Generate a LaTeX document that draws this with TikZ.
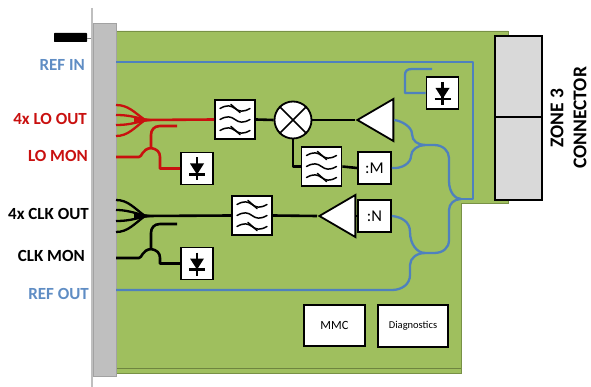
\documentclass[tikz,border=0pt]{standalone}
\usepackage{fontspec}
\setmainfont{Carlito}
\usetikzlibrary{shapes.geometric}
\definecolor{boardg}{HTML}{9FBF5E}
\definecolor{boardd}{HTML}{6E8540}
\definecolor{panelg}{HTML}{BFBFBF}
\definecolor{zoneg}{HTML}{D9D9D9}
\definecolor{bluel}{HTML}{4F81BD}
\definecolor{bluet}{HTML}{5F8DC4}
\definecolor{redl}{HTML}{C9100F}
\tikzset{
  box/.style={draw=black,fill=white,line width=1.8pt,inner sep=0pt,rectangle},
  sigline/.style={line width=2.6pt,line join=round},
  redsig/.style={sigline,draw=redl},
  blacksig/.style={sigline,draw=black},
  bluesig/.style={line width=2.3pt,draw=bluel,line join=round},
  sidelabel/.style={font=\bfseries\fontsize{17}{17}\selectfont,anchor=east,inner sep=0pt},
  amp/.style={isosceles triangle,isosceles triangle stretches,shape border rotate=180,
    draw=black,fill=white,line width=1.8pt,inner sep=0pt,minimum width=42pt,minimum height=36pt,anchor=apex},
  filterbox/.style={box,minimum width=40pt,minimum height=38.5pt},
  diodebox/.style={box,minimum width=32pt,minimum height=32pt},
  divbox/.style={box,minimum width=33pt,minimum height=31.5pt,font=\fontsize{16.5}{16.5}\selectfont},
  mini/.style={line width=1.5pt,line cap=round},
  fanline/.style={line width=2.3pt,line join=round},
}
\newcommand{\filtersym}[1]{%
  \begin{scope}[shift={(#1)}]
    \foreach \yy in {-11,0,11}{
      \draw[mini] (-15,\yy) .. controls (-8,\yy-4) and (-4,\yy-3) .. (0,\yy) .. controls (4,\yy+3) and (8,\yy+4) .. (15,\yy);
    }
    \draw[mini] (-4,-15) -- (5,-7);
    \draw[mini] (-4,7) -- (5,15);
  \end{scope}}
\newcommand{\diodesym}[1]{%
  \begin{scope}[shift={(#1)}]
    \draw[line width=2.2pt] (0,-11) -- (0,12);
    \fill (-7,-5) -- (7,-5) -- (0,6) -- cycle;
    \draw[line width=2.4pt] (-8,6) -- (8,6);
  \end{scope}}
\begin{document}
\begin{tikzpicture}[x=1pt,y=-1pt]
\useasboundingbox (0,0) rectangle (591,387);
% board
\fill[boardg,draw=boardd!80!boardg,line width=.6pt] (116,31) -- (508,31) -- (508,203) -- (461,203) -- (461,373) -- (116,373) -- cycle;
\draw[boardd,line width=.9pt] (116,368) -- (461,368);
% panel and handle
\draw[panelg,line width=2pt] (91.5,8) -- (91.5,387);
\fill[panelg,draw=panelg!85!black,line width=.4pt] (93,23) rectangle (116,376);
\fill[black,rounded corners=.7pt] (54,33) rectangle (87,42);
\draw[gray,line width=.8pt] (87,38) -- (91,38);
% connector
\node[draw=black,fill=zoneg,line width=1.6pt,inner sep=0pt,minimum width=47pt,minimum height=81pt] (z1) at (518.5,76.5) {};
\node[draw=black,fill=zoneg,line width=1.6pt,inner sep=0pt,minimum width=47pt,minimum height=83pt] (z2) at (518.5,158.5) {};
\node[rotate=90,font=\bfseries\fontsize{19.5}{23}\selectfont,align=center,inner sep=0pt] (zl) at (568.5,118) {ZONE 3\\CONNECTOR};
% boxes
\node[filterbox] (f1) at (235,119.5) {};
\node[filterbox] (f2) at (321.5,166.5) {};
\node[filterbox] (f3) at (252,215.5) {};
\node[diodebox] (d1) at (197,168.5) {};
\node[diodebox] (d2) at (197,263.5) {};
\node[diodebox] (d3) at (442.5,93) {};
\node[circle,draw=black,fill=white,line width=1.8pt,minimum size=37pt,inner sep=0pt] (mx) at (293,120) {};
\node[amp] (a1) at (355,120) {};
\node[amp] (a2) at (317,216) {};
\node[divbox] (dm) at (374.5,168) {:M};
\node[divbox] (dn) at (374.5,216) {:N};
\node[box,minimum width=61pt,minimum height=41pt,font=\fontsize{12.5}{12.5}\selectfont] (mmc) at (334.5,325.5) {MMC};
\node[box,minimum width=70pt,minimum height=42pt,font=\fontsize{10.5}{10.5}\selectfont] (diag) at (413,326) {Diagnostics};
\filtersym{f1}\filtersym{f2}\filtersym{f3}
\diodesym{d1}\diodesym{d2}\diodesym{d3}
\draw[line width=1.6pt] (mx.north east) -- (mx.south west) (mx.north west) -- (mx.south east);
% labels
\node[sidelabel,text=bluet] (lrefin) at (85,65) {REF IN};
\node[sidelabel,text=redl] (llo) at (87,119) {4x LO OUT};
\node[sidelabel,text=redl] (lmon) at (88,156) {LO MON};
\node[sidelabel] (lclk) at (89,214) {4x CLK OUT};
\node[sidelabel] (lcmon) at (85,256) {CLK MON};
\node[sidelabel,text=bluet] (lrefo) at (89,294) {REF OUT};
% free ends
\coordinate (e1) at (116,62);
\coordinate (e2) at (116,290);
\coordinate (c1) at (473,62);
\coordinate (c2) at (473,199);
\coordinate (j1) at (425,145);
\coordinate (j2) at (461,199);
\coordinate (j3) at (425,253);
\coordinate (t1) at (432,69);
\coordinate (lofan) at (145,120);
\coordinate (clkfan) at (145,216);
% blue
\draw[bluesig] (e1) -- (c1) -- (c2) -- (j2);
\draw[bluesig] (a1.east) .. controls (402,121) and (412,127) .. (412,134) .. controls (412,141) and (418,145) .. (j1);
\draw[bluesig] (dm.east) .. controls (402,169) and (411,163) .. (411,156) .. controls (411,150) and (418,145) .. (j1);
\draw[bluesig] (j1) -- (434,145) .. controls (443,145) and (449,151) .. (449,158) -- (449,181) .. controls (449,192) and (455,199) .. (j2);
\draw[bluesig] (j2) .. controls (454,199) and (449,204) .. (449,210) -- (449,240) .. controls (449,248) and (443,253) .. (434,253) -- (j3);
\draw[bluesig] (dn.east) .. controls (402,217) and (410,222) .. (410,232) .. controls (410,244) and (417,253) .. (j3);
\draw[bluesig] (j3) .. controls (417,253) and (410,258) .. (410,265) -- (410,275) .. controls (410,284) and (402,290) .. (392,290) -- (e2);
\draw[bluesig] (t1) -- (412,69) .. controls (407,69) and (405,71) .. (405,75) -- (405,93) -- (d3.west);
% red
\draw[fanline,draw=redl] (116,105) .. controls (128,105) and (134,112) .. (lofan);
\draw[fanline,draw=redl] (116,115) .. controls (125,115) and (133,116) .. (lofan);
\draw[fanline,draw=redl] (116,125) .. controls (125,125) and (133,124) .. (lofan);
\draw[fanline,draw=redl] (116,136) .. controls (128,136) and (134,128) .. (lofan);
\fill[redl] (134,116.5) -- (150,119) -- (150,121) -- (134,123.5) -- cycle;
\draw[redsig] (lofan) -- (f1.west);
\coordinate (lot) at (177,126);
\coordinate (loj) at (151,148);
\coordinate (lom) at (116,157);
\draw[redsig] (lot) -- (160,126) .. controls (154,126) and (151,130) .. (151,135) -- (loj);
\draw[redsig] (lom) -- (139,157) .. controls (142,157) and (142,149) .. (loj);
\draw[redsig] (loj) .. controls (157,149) and (160,152) .. (160,157) -- (160,168.5) -- (d1.west);
% black
\draw[fanline,draw=black] (116,200) .. controls (128,200) and (134,208) .. (clkfan);
\draw[fanline,draw=black] (116,210) .. controls (125,210) and (133,212) .. (clkfan);
\draw[fanline,draw=black] (116,221) .. controls (125,221) and (133,220) .. (clkfan);
\draw[fanline,draw=black] (116,232) .. controls (128,232) and (134,224) .. (clkfan);
\fill[black] (134,212.5) -- (150,215) -- (150,217) -- (134,219.5) -- cycle;
\draw[blacksig] (clkfan) -- (f3.west);
\coordinate (clt) at (177,224);
\coordinate (clj) at (151,249);
\coordinate (clm) at (116,258);
\draw[blacksig] (clt) -- (160,224) .. controls (154,224) and (151,228) .. (151,233) -- (clj);
\draw[blacksig] (clm) -- (139,258) .. controls (142,258) and (142,250) .. (clj);
\draw[blacksig] (clj) .. controls (157,250) and (160,253) .. (160,258) -- (160,263.5) -- (d2.west);
\draw[blacksig] (f1.east) -- (mx.west);
\draw[blacksig] (mx.east) -- (a1.apex);
\draw[blacksig] (mx.south) -- (293,166.5) -- (f2.west);
\draw[blacksig] (f2.east) -- (dm.west);
\draw[blacksig] (f3.east) -- (a2.apex);
\draw[blacksig] (a2.east) -- (dn.west);
\end{tikzpicture}
\end{document}
